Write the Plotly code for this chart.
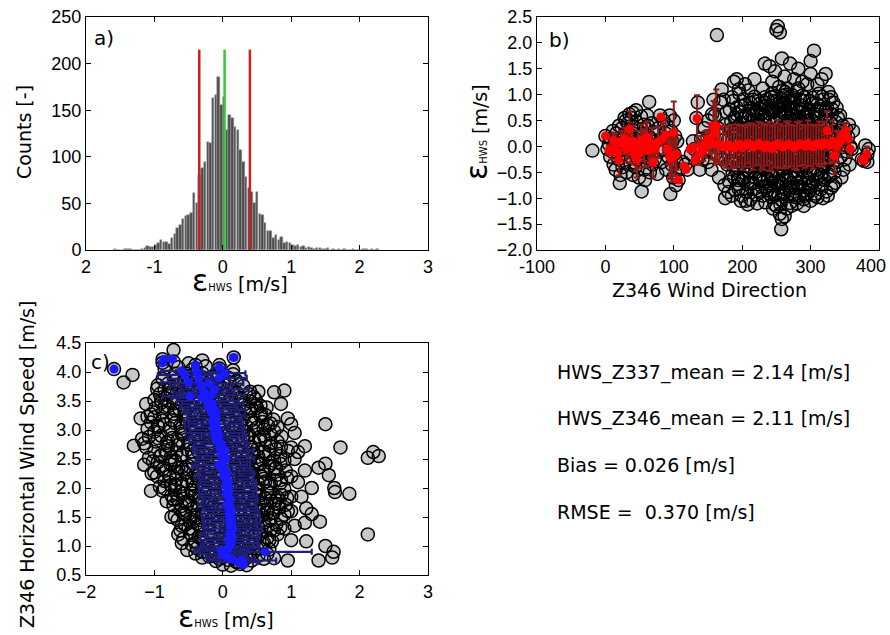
import plotly.graph_objects as go

W, H = 890, 635

# ---------------- panel a: histogram ----------------
hist_start = -1.58
hist_bin = 0.04
hist_counts = [1,0,0,0,1,1,1,0,0,0,
               1,2,4,3,3,5,7,11,9,9,
               6,13,17,24,27,33,37,38,40,61,
               50,80,88,94,116,115,163,166,186,156,
               164,129,145,142,132,129,107,94,78,66,
               62,50,62,39,38,29,20,20,13,16,
               11,14,7,9,7,5,4,5,3,4,
               2,3,2,1,2,2,1,1,2,0,
               1,0,1,0,1,0,0,1,0,0,
               0,1,1,0,1,0,1]
bias = 0.026
rmse = 0.370
line_top = 215

# ---------------- panel b: error vs wind direction ----------------
b_pts = [
 (-19,-0.08),(0,0.2),(3,-0.05),(5,0.05),(7,-0.2),(8,0.15),(10,-0.1),(11,0.3),(12,-0.35),(14,0.1),
 (15,-0.45),(16,0.25),(18,-0.05),(19,-0.25),(20,0.4),(21,-0.71),(22,0.05),(23,-0.15),(24,0.35),(25,-0.4),
 (26,0.2),(27,-0.05),(28,0.55),(29,-0.3),(30,0.1),(31,-0.5),(32,0.28),(33,0.45),(34,-0.2),(35,0.62),
 (36,0.0),(37,-0.35),(38,0.55),(39,0.2),(40,-0.55),(41,0.38),(42,-0.1),(43,0.15),(44,-0.4),(45,0.48),
 (46,-0.25),(47,0.05),(48,0.3),(49,-0.6),(50,0.12),(51,-0.2),(52,0.58),(53,-0.87),(54,0.25),(55,-0.1),
 (56,0.42),(57,-0.45),(58,0.08),(59,0.35),(60,-0.3),(61,0.6),(62,-0.05),(63,0.2),(64,0.86),(65,-0.5),
 (66,0.15),(67,-0.15),(68,0.45),(69,-0.35),(70,0.28),(72,-0.25),(74,0.1),(76,-0.53),(77,0.35),(79,-0.1),
 (80,0.6),(82,0.15),(83,-0.3),(85,0.5),(86,-0.05),(88,0.25),(89,-0.45),(90,0.4),(92,-0.2),(93,0.05),
 (95,-0.92),(96,0.3),(97,-0.35),(98,0.1),(99,-0.6),(100,0.5),(101,-0.15),(102,0.2),(104,-0.3),(105,0.1),
 (107,-0.65),(108,-0.45),(103,-0.75),(94,0.6),(58,-0.65),(45,0.7),(40,0.65),(30,0.5),(22,-0.55),(62,0.4),(34,0.2),
 (113,-0.3),(117,-0.35),(120,-0.45),(125,-0.15),(128,0.1),(130,-0.05),(133,0.55),(135,0.85),(136,-0.22),(138,-0.45),
 (140,0.15),(142,-0.25),(145,0.35),(147,-0.1),(150,0.5),(150,-0.3),(153,0.2),(155,-0.45),(156,0.62),(158,0.9),
 (160,0.6),(161,-0.15),(163,2.15),(165,0.35),(166,-0.6),(168,0.85),(170,1.1),(171,-0.25),(173,0.9),(174,-0.75),
 (175,-1.0),(176,0.15),(185,-0.95),(188,1.25),(192,1.3),(195,1.1),(198,-1.05),(204,1.2),(208,-1.12),(218,1.3),
 (222,-1.1),(233,1.6),(240,1.55),(244,1.25),(248,1.45),(250,2.25),(252,2.32),(255,2.2),(258,1.7),(262,1.35),
 (270,1.6),(276,1.3),(282,1.5),(288,1.25),(295,1.2),(300,1.4),(300,1.65),(305,1.85),(310,1.2),(316,1.3),
 (322,1.4),(245,-1.2),(250,-1.15),(255,-1.3),(258,-1.4),(257,-1.6),(262,-1.35),(265,-1.2),(272,-1.15),(280,-1.1),
 (290,-1.15),(300,-1.05),(310,-0.98),(318,-1.0),(325,-0.95),(333,-0.75),(330,0.95),(326,1.05),
 (176,0.42),(178,-0.35),(179,0.12),(181,-0.68),(182,0.71),(183,-0.05),(184,0.33),(186,-0.52),(187,0.88),(188,-0.21),
 (189,0.55),(190,-0.84),(191,0.08),(192,0.62),(193,-0.41),(194,0.27),(195,-0.73),(196,1.02),(197,-0.12),(198,0.45),
 (199,-0.95),(200,0.18),(200,-0.33),(198,0.78),(185,0.95),(180,-0.88),(177,0.66),(194,-0.6),(189,0.3),(183,-0.28),
 (201,-0.62),(202,0.91),(203,0.04),(204,-0.27),(205,0.58),(206,-0.88),(207,0.36),(208,-0.03),(209,1.08),(210,-0.47),
 (211,0.21),(212,-1.02),(213,0.74),(214,-0.15),(215,0.49),(216,-0.71),(217,0.12),(218,0.96),(219,-0.38),(220,0.31),
 (221,-0.93),(222,0.66),(223,-0.09),(224,0.41),(225,-0.56),(203,0.55),(206,-0.45),(209,0.22),(212,0.84),(215,-0.33),
 (218,-0.82),(221,0.15),(224,0.88),(205,-1.05),(210,0.62),(214,0.37),(219,-0.6),(223,-0.25),(208,-0.72),(216,0.7),
 (226,0.83),(227,-0.21),(228,0.17),(229,-0.78),(230,1.12),(231,0.02),(232,-0.44),(233,0.59),(234,-1.08),(235,0.28),
 (236,-0.12),(237,0.91),(238,-0.63),(239,0.45),(240,-0.91),(241,0.07),(242,0.72),(243,-0.34),(244,1.03),(245,-0.58),
 (246,0.23),(247,-1.12),(248,0.51),(249,-0.17),(250,0.86),(226,-0.42),(228,0.64),(230,-0.95),(232,0.33),(234,-0.06),
 (236,0.78),(238,-0.29),(240,0.52),(242,-0.71),(244,0.19),(246,-0.86),(248,0.97),(250,-0.49),(227,0.38),(231,-0.62),
 (235,-0.3),(239,0.1),(243,-0.98),(247,0.68),(249,0.3),(233,0.95),(237,-0.85),(241,-0.52),(245,0.42),(229,0.08),
 (251,-0.74),(252,0.29),(253,-0.08),(254,1.15),(255,-0.39),(256,0.61),(257,-1.03),(258,0.14),(259,0.82),(260,-0.55),
 (261,0.37),(262,-0.19),(263,1.05),(264,-0.83),(265,0.48),(266,-0.02),(267,0.93),(268,-0.66),(269,0.22),(270,-1.09),
 (271,0.71),(272,-0.31),(273,0.06),(274,0.58),(275,-0.47),(251,0.55),(253,-0.92),(255,0.85),(257,0.33),(259,-0.28),
 (261,-0.88),(263,0.18),(265,-0.6),(267,-0.22),(269,0.74),(271,-0.78),(273,0.99),(275,0.25),(252,-0.5),(254,0.05),
 (256,-0.15),(258,-0.72),(260,0.98),(262,0.66),(264,-0.36),(266,0.78),(268,0.41),(270,0.1),(272,0.6),(274,-0.95),
 (252,0.75),(256,-1.12),(262,-0.65),(266,1.12),(270,0.45),
 (276,0.87),(277,-0.13),(278,0.35),(279,-0.81),(280,1.07),(281,-0.4),(282,0.11),(283,0.68),(284,-0.97),(285,0.24),
 (286,-0.24),(287,0.79),(288,-0.6),(289,0.43),(290,-0.05),(291,0.95),(292,-0.74),(293,0.17),(294,0.56),(295,-0.33),
 (296,-0.9),(297,0.3),(298,0.72),(299,-0.51),(300,0.08),(277,0.52),(279,0.2),(281,-0.7),(283,-0.18),(285,0.9),
 (287,-0.45),(289,-0.85),(291,0.35),(293,-0.3),(295,0.63),(297,-0.7),(299,0.88),(278,-0.55),(282,1.12),(286,0.5),
 (290,-1.02),(294,-0.15),(298,0.4),(280,0.0),(284,0.15),(288,0.98),(292,0.1),(296,0.2),(300,-0.75),(276,-0.93),
 (301,0.51),(302,-0.26),(303,0.94),(304,-0.68),(305,0.13),(306,0.62),(307,-0.91),(308,0.29),(309,-0.08),(310,0.81),
 (311,-0.52),(312,0.4),(313,-0.19),(314,0.69),(315,-0.83),(316,0.05),(317,0.96),(318,-0.37),(319,0.22),(320,-0.65),
 (321,0.58),(322,0.02),(323,-0.87),(324,0.75),(325,-0.28),(326,0.33),(327,0.9),(328,-0.55),(329,0.16),(330,-0.8),
 (331,0.62),(332,-0.12),(333,0.85),(334,-0.42),(335,0.28),(336,-0.7),(337,0.47),(338,0.02),(339,-0.3),(340,0.55),
 (304,0.35),(308,-0.45),(312,1.02),(316,-0.6),(320,0.15),
 (342,0.3),(344,-0.2),(345,0.12),(347,0.4),(348,-0.45),(350,0.22),(352,0.33),(353,-0.1),(355,0.18),(356,0.42),
 (357,-0.35),(358,0.0),(360,-0.05),(362,0.3),(345,-0.6),(350,-0.25),(375,-0.25),(378,-0.28),(380,0.02),(383,-0.15),
 (385,-0.05),(383,-0.3),(343,0.6),(338,0.75),
]

# more samples from the dense core of panel b (direction, error)
b_core_dir = [186,191,197,202,207,213,218,223,229,234,239,245,250,255,261,266,271,277,282,287,293,298,303,309,314,319,325,330,
              188,193,199,204,210,215,221,226,231,237,242,247,253,258,263,269,274,279,285,290,295,301,306,311,317,322,327,333,
              184,190,195,200,206,211,216,222,227,232,238,243,248,254,259,264,270,275,280,286,291,296,302,307,312,318,323,328,
              187,192,198,203,209,214,219,225,230,235,241,246,251,257,262,267,273,278,283,289,294,299,305,310,315,321,326,331,
              189,194,200,205,211,216,222,227,233,238,243,249,254,259,265,270,276,281,286,292,297,302,308,313,318,324,329,335,
              183,196,208,220,232,244,256,268,280,292,304,316,328,201,213,225,237,249,261,273,285,297,309,321,241,265,289,312,
              190,202,214,226,238,250,262,274,286,298,310,322,207,219,231,243,255,267,279,291,303,315,247,259,271,283,295,245]
b_core_eps = [0.12,-0.45,0.66,-0.2,0.35,-0.71,0.05,0.52,-0.33,0.84,-0.08,-0.6,0.27,0.71,-0.92,0.4,-0.15,0.93,-0.52,0.19,0.62,-0.78,0.31,-0.05,0.77,-0.4,0.1,0.45,
              -0.6,0.3,-0.15,0.8,-0.5,0.22,0.68,-0.88,0.42,-0.25,0.95,0.14,-0.68,-0.1,0.58,-0.82,0.75,-0.36,0.03,0.88,-0.62,0.24,-0.95,0.55,-0.18,0.7,-0.58,-0.05,
              0.48,-0.1,-0.82,0.58,0.08,-0.38,0.9,0.28,-0.66,0.5,-0.48,0.68,-0.95,0.38,-0.45,1.0,-0.28,0.15,0.72,-0.7,-0.12,0.5,0.82,-0.3,0.38,-0.72,0.6,0.28,
              -0.28,0.75,0.25,-0.62,0.55,-0.05,-0.5,0.74,0.12,-0.8,0.32,0.88,-0.2,-0.78,0.85,-0.4,0.28,-0.98,0.5,0.1,-0.42,-0.85,0.16,0.7,-0.55,0.35,-0.25,0.72,
              0.35,-0.65,0.05,0.32,-0.25,0.6,-0.85,-0.15,0.78,0.05,-0.55,0.45,0.62,-0.35,0.12,0.85,-0.62,0.42,-0.3,-0.95,0.68,-0.1,-0.65,0.2,0.9,-0.15,0.05,-0.5,
              -0.1,0.15,0.18,-0.2,-0.15,-0.25,0.22,0.3,-0.22,0.3,-0.1,0.25,-0.15,0.0,-0.12,0.1,0.2,0.05,-0.05,-0.18,0.0,-0.02,0.12,0.0,0.25,-0.3,-0.25,0.45,
              0.2,0.42,-0.1,0.05,0.1,-0.3,-0.02,0.1,0.18,-0.2,-0.32,0.5,-0.25,0.25,-0.05,-0.12,-0.05,0.35,-0.1,0.6,0.02,-0.35,-0.7,1.08,-0.55,-0.8,-0.6,0.7]

b_mean_dir = [0,5,9,12,15,18,20,23,26,28,31,33,35,37,40,42,44,46,48,50,
              52,55,57,59,61,63,66,68,70,73,77,81,84,88,91,94,96,98,100,102,
              104,107,115,118,124,128,131,134,137,140,143,146,149,152,155,158,160,162,164,167,
              172,176,180,184,188,192,196,200,204,208,212,216,220,224,228,232,236,240,244,248,
              252,256,260,264,268,272,276,280,284,288,292,296,300,304,308,312,316,320,324,328,
              332,335,338,340,343,346,349,352,355,358,375,378,382]
b_mean_eps = [0.20,-0.07,-0.10,0.12,0.05,-0.12,-0.26,0.10,0.05,0.16,-0.05,0.08,0.33,-0.02,0.10,-0.10,-0.18,-0.25,0.05,-0.12,
              0.12,0.02,-0.05,0.15,0.18,-0.08,0.00,0.05,-0.30,-0.05,0.08,0.57,0.15,0.22,-0.05,-0.20,-0.23,-0.18,0.27,-0.17,
              -0.15,-0.65,-0.38,-0.44,-0.05,-0.02,-0.26,0.54,-0.15,0.00,-0.08,0.05,0.12,0.15,0.05,0.38,0.25,0.40,0.05,0.02,
              0.02,-0.01,0.03,0.00,-0.03,0.02,0.04,-0.02,0.01,0.05,0.03,-0.01,0.02,0.06,0.01,-0.02,0.03,0.00,-0.04,0.02,
              0.05,0.01,-0.01,0.03,0.04,0.02,-0.02,0.01,0.05,0.03,0.00,0.06,0.02,-0.01,0.04,0.05,0.01,0.07,0.30,0.03,
              0.10,-0.18,0.00,0.05,0.10,0.18,0.25,0.30,0.15,-0.05,-0.25,-0.28,-0.15]
b_mean_err = [0.02,0.10,0.15,0.15,0.20,0.20,0.30,0.20,0.20,0.20,0.25,0.30,0.35,0.30,0.30,0.25,0.30,0.35,0.25,0.30,
              0.30,0.30,0.35,0.30,0.30,0.30,0.25,0.30,0.30,0.20,0.30,0.05,0.30,0.30,0.30,0.40,0.40,0.50,0.60,0.40,
              0.30,0.03,0.05,0.05,0.05,0.05,0.10,0.45,0.20,0.20,0.20,0.25,0.20,0.30,0.30,0.50,0.60,0.70,0.35,0.35,
              0.38,0.40,0.36,0.42,0.39,0.41,0.37,0.43,0.40,0.38,0.42,0.44,0.39,0.41,0.45,0.43,0.40,0.47,0.44,0.42,
              0.46,0.43,0.41,0.45,0.44,0.40,0.42,0.46,0.43,0.39,0.41,0.44,0.40,0.42,0.38,0.43,0.40,0.41,0.38,0.36,
              0.40,0.35,0.30,0.25,0.20,0.20,0.20,0.15,0.20,0.15,0.05,0.05,0.15]
b_xticks = [-100, 0, 100, 200, 300, 400]
b_xticktext = ["-100", "0", "100", "200", "300", ""]
b_last_label = "400"   # drawn separately so it stays inside the page edge

# ---------------- panel c: error vs wind speed ----------------
c_pts = [
 (0.0,0.68),(0.12,0.66),(0.25,0.69),(0.35,0.67),(-0.1,0.74),(0.08,0.76),(0.22,0.73),(0.42,0.75),(0.6,0.78),(0.75,0.79),
 (-0.3,0.8),(-0.15,0.83),(0.0,0.81),(0.18,0.84),(0.35,0.8),(0.52,0.83),(-0.4,0.87),(-0.22,0.89),(0.05,0.88),(0.28,0.87),
 (0.45,0.89),(0.65,0.86),
 (-0.52,0.93),(-0.38,0.96),(-0.2,0.94),(-0.05,0.97),(0.18,0.95),(0.32,0.99),(0.5,0.96),(0.68,0.94),(-0.45,1.02),(-0.28,1.05),
 (-0.1,1.03),(0.05,1.07),(0.22,1.02),(0.38,1.06),(0.58,1.04),(0.72,1.08),(-0.58,1.12),(-0.35,1.15),(-0.18,1.18),(0.0,1.13),
 (0.15,1.2),(0.3,1.16),(0.48,1.19),(0.65,1.14),(0.8,1.2),(-0.48,1.22),(0.1,1.24),(0.42,1.23),
 (-0.62,1.27),(-0.45,1.3),(-0.3,1.28),(-0.12,1.32),(0.04,1.29),(0.2,1.33),(0.36,1.27),(0.52,1.31),(0.7,1.28),(0.84,1.32),
 (-0.55,1.36),(-0.38,1.39),(-0.22,1.37),(-0.05,1.41),(0.12,1.38),(0.28,1.42),(0.45,1.36),(0.6,1.4),(0.78,1.37),(-0.66,1.45),
 (-0.48,1.47),(-0.3,1.44),(-0.15,1.48),(0.02,1.46),(0.18,1.49),(0.35,1.45),(0.52,1.48),(0.68,1.44),(0.85,1.47),
 (-0.7,1.52),(-0.55,1.55),(-0.4,1.53),(-0.25,1.57),(-0.08,1.54),(0.08,1.58),(0.25,1.52),(0.4,1.56),(0.58,1.53),(0.74,1.57),
 (0.9,1.54),(-0.62,1.62),(-0.45,1.64),(-0.3,1.61),(-0.15,1.66),(0.0,1.63),(0.16,1.65),(0.32,1.62),(0.48,1.67),(0.65,1.63),
 (0.82,1.66),(-0.72,1.7),(-0.52,1.72),(-0.36,1.71),(-0.2,1.74),(-0.04,1.7),(0.12,1.73),(0.28,1.71),(0.44,1.74),(0.6,1.7),
 (0.76,1.73),(0.92,1.71),
 (-0.82,1.77),(-0.66,1.8),(-0.5,1.78),(-0.34,1.82),(-0.18,1.79),(-0.02,1.83),(0.14,1.77),(0.3,1.81),(0.46,1.78),(0.62,1.82),
 (0.78,1.79),(0.94,1.83),(-0.75,1.87),(-0.58,1.9),(-0.42,1.86),(-0.26,1.91),(-0.1,1.88),(0.06,1.92),(0.22,1.86),(0.38,1.9),
 (0.54,1.87),(0.7,1.91),(0.86,1.88),(-0.88,1.95),(-0.7,1.97),(-0.46,1.96),(-0.3,1.99),(0.15,1.97),(0.5,1.96),(0.9,1.98),
 (-0.92,2.02),(-0.76,2.05),(-0.6,2.03),(-0.44,2.07),(-0.28,2.04),(-0.12,2.08),(0.04,2.02),(0.2,2.06),(0.36,2.03),(0.52,2.07),
 (0.68,2.04),(0.84,2.08),(-0.85,2.12),(-0.68,2.15),(-0.52,2.11),(-0.36,2.16),(-0.2,2.13),(-0.04,2.17),(0.12,2.11),(0.28,2.15),
 (0.44,2.12),(0.6,2.16),(0.76,2.13),(0.94,2.17),(-0.96,2.2),(-0.78,2.23),(-0.4,2.22),(0.0,2.24),(0.4,2.21),(0.8,2.23),
 (-1.0,2.27),(-0.84,2.3),(-0.68,2.28),(-0.52,2.32),(-0.36,2.29),(-0.2,2.33),(-0.04,2.27),(0.12,2.31),(0.28,2.28),(0.44,2.32),
 (0.6,2.29),(0.76,2.33),(0.92,2.3),(-0.92,2.37),(-0.76,2.4),(-0.6,2.36),(-0.44,2.41),(-0.28,2.38),(-0.12,2.42),(0.04,2.36),
 (0.2,2.4),(0.36,2.37),(0.52,2.41),(0.68,2.38),(0.84,2.42),(-1.02,2.46),(-0.7,2.48),(-0.3,2.47),(0.1,2.49),(0.5,2.46),(0.9,2.48),
 (-1.08,2.52),(-0.92,2.55),(-0.76,2.53),(-0.6,2.57),(-0.44,2.54),(-0.28,2.58),(-0.12,2.52),(0.04,2.56),(0.2,2.53),(0.36,2.57),
 (0.52,2.54),(0.68,2.58),(0.84,2.55),(-1.0,2.62),(-0.84,2.65),(-0.68,2.61),(-0.52,2.66),(-0.36,2.63),(-0.2,2.67),(-0.04,2.61),
 (0.12,2.65),(0.28,2.62),(0.44,2.66),(0.6,2.63),(0.78,2.67),(0.95,2.64),(-1.12,2.7),(-0.8,2.72),(-0.4,2.71),(0.0,2.73),(0.4,2.7),(0.7,2.72),
 (-1.15,2.77),(-0.98,2.8),(-0.82,2.78),(-0.66,2.82),(-0.5,2.79),(-0.34,2.83),(-0.18,2.77),(-0.02,2.81),(0.14,2.78),(0.3,2.82),
 (0.46,2.79),(0.62,2.83),(0.8,2.8),(-1.08,2.88),(-0.9,2.9),(-0.74,2.86),(-0.58,2.91),(-0.42,2.88),(-0.26,2.92),(-0.1,2.86),
 (0.06,2.9),(0.22,2.87),(0.38,2.91),(0.54,2.88),(0.7,2.92),(0.86,2.89),(-1.0,2.97),(-0.6,2.98),(-0.2,2.96),(0.3,2.98),
 (-1.1,3.02),(-0.94,3.05),(-0.78,3.03),(-0.62,3.07),(-0.46,3.04),(-0.3,3.08),(-0.14,3.02),(0.02,3.06),(0.18,3.03),(0.34,3.07),
 (0.5,3.04),(0.66,3.08),(0.8,3.05),(-1.05,3.13),(-0.88,3.16),(-0.7,3.12),(-0.54,3.17),(-0.38,3.14),(-0.22,3.18),(-0.06,3.12),
 (0.1,3.16),(0.26,3.13),(0.42,3.17),(0.58,3.14),(0.74,3.18),(-1.1,3.23),(-0.5,3.24),(0.2,3.22),
 (-1.05,3.27),(-0.88,3.3),(-0.72,3.28),(-0.56,3.32),(-0.4,3.29),(-0.24,3.33),(-0.08,3.27),(0.08,3.31),(0.24,3.28),(0.4,3.32),
 (0.56,3.29),(-0.98,3.38),(-0.8,3.41),(-0.64,3.37),(-0.48,3.42),(-0.32,3.39),(-0.16,3.43),(0.0,3.37),(0.16,3.41),(0.32,3.38),
 (0.48,3.42),(0.64,3.39),(-0.9,3.47),(-0.4,3.48),(0.1,3.46),
 (-1.0,3.52),(-0.84,3.55),(-0.68,3.53),(-0.52,3.57),(-0.36,3.54),(-0.2,3.58),(-0.04,3.52),(0.12,3.56),(0.28,3.53),(0.45,3.57),
 (-0.92,3.62),(-0.76,3.65),(-0.6,3.61),(-0.44,3.66),(-0.28,3.63),(-0.12,3.67),(0.04,3.61),(0.2,3.65),(0.38,3.62),(0.52,3.66),
 (-0.96,3.71),(-0.5,3.73),(0.0,3.72),
 (-0.95,3.77),(-0.8,3.8),(-0.65,3.78),(-0.5,3.82),(-0.35,3.79),(-0.2,3.83),(-0.05,3.77),(0.1,3.81),(0.2,3.85),(-0.88,3.88),
 (-0.72,3.91),(-0.56,3.87),(-0.4,3.92),(-0.24,3.89),(-0.08,3.93),(0.08,3.9),(-0.7,3.97),(-0.3,3.98),(0.15,3.96),
 (-0.85,4.05),(-0.65,4.08),(-0.45,4.04),(-0.25,4.1),(-0.05,4.06),(0.15,4.03),(-0.72,4.18),(-0.5,4.15),(-0.3,4.2),(-0.88,4.22),
 (-0.72,4.38),(0.16,4.25),(-0.4,4.12),(-0.05,4.12),(-0.88,4.16),(-1.59,4.05),
 (-1.45,3.82),(-1.32,3.95),(-1.3,2.73),(-1.18,2.85),(-1.2,3.2),(-1.12,3.45),(-1.15,2.4),(-1.05,1.95),(-1.04,2.25),(-0.75,1.5),
 (-0.65,1.2),(-0.6,1.05),(0.75,3.65),(0.9,3.68),(0.85,3.45),(0.95,3.2),(1.0,3.1),(1.5,3.1),(1.05,2.95),(1.0,2.7),
 (1.1,2.62),(1.2,2.72),(1.05,2.5),(1.72,2.7),(2.12,2.52),(2.2,2.62),(2.28,2.55),(1.4,2.35),(1.5,2.42),(1.55,2.22),
 (1.2,2.3),(1.0,2.2),(1.1,2.1),(1.3,2.0),(1.63,2.0),(1.64,1.93),(1.85,1.9),(1.15,1.85),(1.22,1.65),(1.3,1.55),
 (1.0,1.6),(1.2,1.4),(1.42,1.42),(1.05,1.35),(2.12,1.2),(1.22,1.08),(1.5,1.0),(1.62,0.9),(1.6,0.8),(1.4,0.75),
 (0.95,0.75),(1.0,1.1),(0.9,1.3),(0.95,1.6),(1.0,1.85),
]

# more samples from the dense core of panel c (error, speed)
c_core_spd = [1.12,1.21,1.3,1.39,1.48,1.57,1.66,1.75,1.84,1.93,2.02,2.11,2.2,2.29,2.38,2.47,2.56,2.65,2.74,2.83,2.92,3.01,3.1,3.19,3.28,3.37,3.46,3.55,
              1.15,1.24,1.33,1.42,1.51,1.6,1.69,1.78,1.87,1.96,2.05,2.14,2.23,2.32,2.41,2.5,2.59,2.68,2.77,2.86,2.95,3.04,3.13,3.22,3.31,3.4,3.49,3.58,
              1.18,1.27,1.36,1.45,1.54,1.63,1.72,1.81,1.9,1.99,2.08,2.17,2.26,2.35,2.44,2.53,2.62,2.71,2.8,2.89,2.98,3.07,3.16,3.25,3.34,3.43,3.52,3.61,
              1.1,1.19,1.28,1.37,1.46,1.55,1.64,1.73,1.82,1.91,2.0,2.09,2.18,2.27,2.36,2.45,2.54,2.63,2.72,2.81,2.9,2.99,3.08,3.17,3.26,3.35,3.44,3.53,
              1.13,1.22,1.31,1.4,1.49,1.58,1.67,1.76,1.85,1.94,2.03,2.12,2.21,2.3,2.39,2.48,2.57,2.66,2.75,2.84,2.93,3.02,3.11,3.2,3.29,3.38,3.47,3.56,
              1.06,1.16,1.26,1.35,1.44,1.53,1.62,1.71,1.8,1.89,1.98,2.07,2.16,2.25,2.34,2.43,2.52,2.61,2.7,2.79,2.88,2.97,3.06,3.15,3.24,3.33,3.42,3.51,
              0.72,0.78,0.84,0.9,0.96,1.02,1.08,0.76,0.86,0.94,1.04,3.62,3.68,3.74,3.8,3.86,3.92,3.98,3.64,3.7,3.76,3.84,3.9,0.82,0.98,1.06,3.66,3.78]
c_core_eps = [-0.3,0.55,-0.5,0.2,0.7,-0.58,0.4,-0.3,0.8,-0.62,0.12,0.62,-0.78,0.3,-0.5,0.75,-0.9,0.2,-0.65,0.55,-0.35,0.6,-0.85,0.3,-0.55,0.42,-0.72,0.25,
              0.45,-0.2,0.62,-0.48,0.05,0.52,-0.6,0.7,-0.15,0.35,-0.7,0.85,-0.25,-0.88,0.55,-0.1,0.45,-0.75,0.7,-0.95,0.1,-0.6,0.45,-1.0,0.05,-0.85,0.4,-0.5,
              0.02,0.75,-0.35,0.6,-0.55,0.22,0.82,-0.72,0.48,-0.85,0.7,-0.45,0.4,0.78,-0.95,0.35,-0.3,0.85,-0.2,0.35,0.75,-0.95,-0.2,0.55,-0.7,0.3,0.1,-0.8,
              0.68,-0.45,0.3,-0.2,0.48,-0.3,-0.1,0.55,0.2,-0.45,0.5,-0.15,0.15,-0.55,0.2,-0.7,0.62,-0.45,0.08,-0.8,0.6,0.45,-0.4,-0.75,0.62,-0.25,-0.6,0.48,
              0.18,0.05,-0.05,0.38,-0.4,0.65,0.1,-0.55,-0.35,0.65,-0.4,0.3,0.55,0.6,-0.2,0.4,-0.6,0.5,-0.5,0.1,-0.6,0.15,0.7,-0.3,-0.15,0.5,-0.25,-0.15,
              -0.4,0.3,0.12,-0.6,0.25,-0.12,0.6,0.25,-0.72,0.1,-0.2,-0.6,0.05,0.3,-0.65,0.7,-0.12,0.05,0.4,-0.35,-0.25,-0.45,0.2,0.1,-0.4,0.2,0.55,-0.9,
              0.2,-0.05,0.4,-0.3,0.55,-0.15,0.3,0.3,0.15,-0.1,0.45,-0.6,0.15,-0.75,0.0,-0.45,-0.15,-0.55,-0.25,-0.85,0.3,-0.7,-0.35,-0.2,0.25,0.6,0.4,-0.1]

c_mean_eps = [0.30,0.22,0.28,0.12,0.05,0.00,0.62,-0.02,0.08,0.10,0.12,0.09,0.14,0.10,0.12,0.15,0.11,0.13,0.10,0.12,
              0.09,0.13,0.10,0.06,0.09,0.11,0.08,0.05,0.09,0.07,0.04,0.08,0.05,0.02,0.06,0.03,-0.02,-0.05,0.00,0.04,
              0.02,-0.03,0.03,-0.04,-0.02,-0.07,-0.10,-0.06,-0.12,-0.08,-0.13,-0.10,-0.15,-0.12,-0.10,-0.16,-0.12,-0.20,-0.15,-0.22,
              -0.30,-0.48,-0.18,-0.28,-0.12,-0.32,-0.20,-0.50,-0.35,-0.05,-0.55,0.03,-0.38,-0.60,-1.59,-0.05,-0.40,-0.88,-0.86,-0.74,0.16]
c_mean_spd = [0.68,0.72,0.75,0.78,0.82,0.86,0.90,0.92,0.96,1.00,1.05,1.10,1.15,1.20,1.25,1.30,1.35,1.40,1.45,1.50,
              1.55,1.60,1.65,1.70,1.75,1.80,1.85,1.90,1.95,2.00,2.05,2.10,2.15,2.20,2.25,2.30,2.35,2.40,2.45,2.50,
              2.55,2.60,2.65,2.70,2.75,2.80,2.85,2.90,2.95,3.00,3.05,3.10,3.15,3.20,3.25,3.30,3.35,3.40,3.45,3.50,
              3.55,3.58,3.60,3.65,3.70,3.75,3.80,3.82,3.88,3.90,3.95,3.98,4.00,4.02,4.05,4.08,4.12,4.16,4.22,4.22,4.25]
c_mean_err = [0.05,0.30,0.50,0.35,0.30,0.35,0.68,0.40,0.45,0.42,0.40,0.42,0.40,0.42,0.40,0.42,0.40,0.42,0.40,0.42,
              0.40,0.40,0.40,0.42,0.40,0.40,0.42,0.40,0.40,0.42,0.40,0.40,0.40,0.42,0.40,0.40,0.42,0.40,0.40,0.42,
              0.40,0.40,0.42,0.40,0.40,0.42,0.40,0.40,0.42,0.40,0.42,0.40,0.42,0.40,0.42,0.40,0.45,0.42,0.45,0.45,
              0.45,0.40,0.50,0.45,0.50,0.45,0.50,0.40,0.45,0.40,0.40,0.30,0.30,0.30,0.02,0.10,0.05,0.05,0.05,0.05,0.05]

stats_lines = ["HWS_Z337_mean = 2.14 [m/s]", "HWS_Z346_mean = 2.11 [m/s]",
               "Bias = 0.026 [m/s]", "RMSE =  0.370 [m/s]"]

# ---------------- figure ----------------
def px_x(p):
    return p / W

def px_y(p):
    return 1 - p / H

TICKFAMILY = "Liberation Sans, Arial, sans-serif"
TICKFONT = dict(family=TICKFAMILY, size=18, color="black")
EPS_TITLE = ("<span style='font-size:30px'>ε</span>"
             "<span style='font-size:10px'>HWS</span> [m/s]")

fig = go.Figure()

hist_x = [hist_start + hist_bin * i for i in range(len(hist_counts))]
fig.add_trace(go.Bar(x=hist_x, y=hist_counts, width=hist_bin * 0.9,
                     marker=dict(color="#4f4f4f", line=dict(color="#9a9a9a", width=0.5)),
                     xaxis="x", yaxis="y", showlegend=False))
for xv, col in [(bias - rmse, "#cc2020"), (bias + rmse, "#cc2020"), (bias, "#33cc33")]:
    fig.add_trace(go.Scatter(x=[xv, xv], y=[0, line_top], mode="lines",
                             line=dict(color=col, width=2.5), xaxis="x", yaxis="y",
                             showlegend=False))

def add_cloud(xs, ys, xa, ya):
    # faces first, then all edges on top
    fig.add_trace(go.Scatter(x=xs, y=ys, mode="markers",
                             marker=dict(size=13, color="rgb(200,200,200)", line=dict(width=0)),
                             xaxis=xa, yaxis=ya, showlegend=False))
    fig.add_trace(go.Scatter(x=xs, y=ys, mode="markers",
                             marker=dict(size=13, symbol="circle-open", color="#000000",
                                         line=dict(width=1.5)),
                             xaxis=xa, yaxis=ya, showlegend=False))

bx, by = zip(*b_pts)
add_cloud(list(bx) + b_core_dir, list(by) + b_core_eps, "x2", "y2")
fig.add_trace(go.Scatter(x=b_mean_dir, y=b_mean_eps, mode="markers",
                         marker=dict(size=9, color="#ff0000"),
                         error_y=dict(type="data", array=b_mean_err, color="#8e1a1a",
                                      thickness=2, width=3),
                         xaxis="x2", yaxis="y2", showlegend=False))

cx, cy = zip(*c_pts)
add_cloud(list(cx) + c_core_eps, list(cy) + c_core_spd, "x3", "y3")
fig.add_trace(go.Scatter(x=c_mean_eps, y=c_mean_spd, mode="markers",
                         marker=dict(size=9, color="#1a1aff"),
                         error_x=dict(type="data", array=c_mean_err, color="#1f1f78",
                                      thickness=2.2, width=3),
                         xaxis="x3", yaxis="y3", showlegend=False))

axis_common = dict(showline=True, linecolor="black", linewidth=1, mirror="ticks",
                   ticks="inside", ticklen=5, tickcolor="black", showgrid=False,
                   zeroline=False, tickfont=TICKFONT, automargin=False)

dom_ax = [px_x(86), px_x(428)]
dom_bx = [px_x(537), px_x(879)]
dom_top = [px_y(250), px_y(17)]
dom_bot = [px_y(575), px_y(343)]

fig.update_layout(
    width=W, height=H, margin=dict(l=0, r=0, t=0, b=0, pad=0, autoexpand=False),
    paper_bgcolor="white", plot_bgcolor="white", bargap=0,
    xaxis=dict(domain=dom_ax, anchor="y", range=[-2, 3],
               tickvals=[-2, -1, 0, 1, 2, 3], ticktext=["2", "-1", "0", "1", "2", "3"],
               **axis_common),
    yaxis=dict(domain=dom_top, anchor="x", range=[0, 250], dtick=50, **axis_common),
    xaxis2=dict(domain=dom_bx, anchor="y2", range=[-100, 400],
                tickvals=b_xticks, ticktext=b_xticktext, **axis_common),
    yaxis2=dict(domain=dom_top, anchor="x2", range=[-2, 2.5], dtick=0.5,
                tickformat=".1f", **axis_common),
    xaxis3=dict(domain=dom_ax, anchor="y3", range=[-2, 3], dtick=1, **axis_common),
    yaxis3=dict(domain=dom_bot, anchor="x3", range=[0.5, 4.5], dtick=0.5,
                tickformat=".1f", **axis_common),
)

ann = []
def add_text(text, x, y, size=19, angle=0, xanchor="center", family="DejaVu Sans, sans-serif"):
    ann.append(dict(text=text, x=px_x(x), y=px_y(y), xref="paper", yref="paper",
                    showarrow=False, textangle=angle, xanchor=xanchor, yanchor="middle",
                    font=dict(family=family, size=size, color="black")))

# last tick label of panel b, kept inside the page
add_text(b_last_label, 888, 266, size=18, xanchor="right", family=TICKFAMILY)
# axis titles
add_text("Counts [-]", 24, 132, angle=-90)
add_text(EPS_TITLE, 240, 281)
add_text(EPS_TITLE, 477, 132, angle=-90)
add_text("Z346 Wind Direction", 709, 290)
add_text("Z346 Horizontal Wind Speed [m/s]", 27, 465, angle=-90)
add_text(EPS_TITLE, 226, 616)
# panel labels
add_text("a)", 92, 38, size=20, xanchor="left")
add_text("b)", 547, 40, size=20, xanchor="left")
add_text("c)", 89, 362, size=20, xanchor="left")
# statistics
for line, yy in zip(stats_lines, [372, 418, 465, 512]):
    add_text(line, 555, yy, size=19, xanchor="left")

fig.update_layout(annotations=ann)
fig.write_html("out.html")
